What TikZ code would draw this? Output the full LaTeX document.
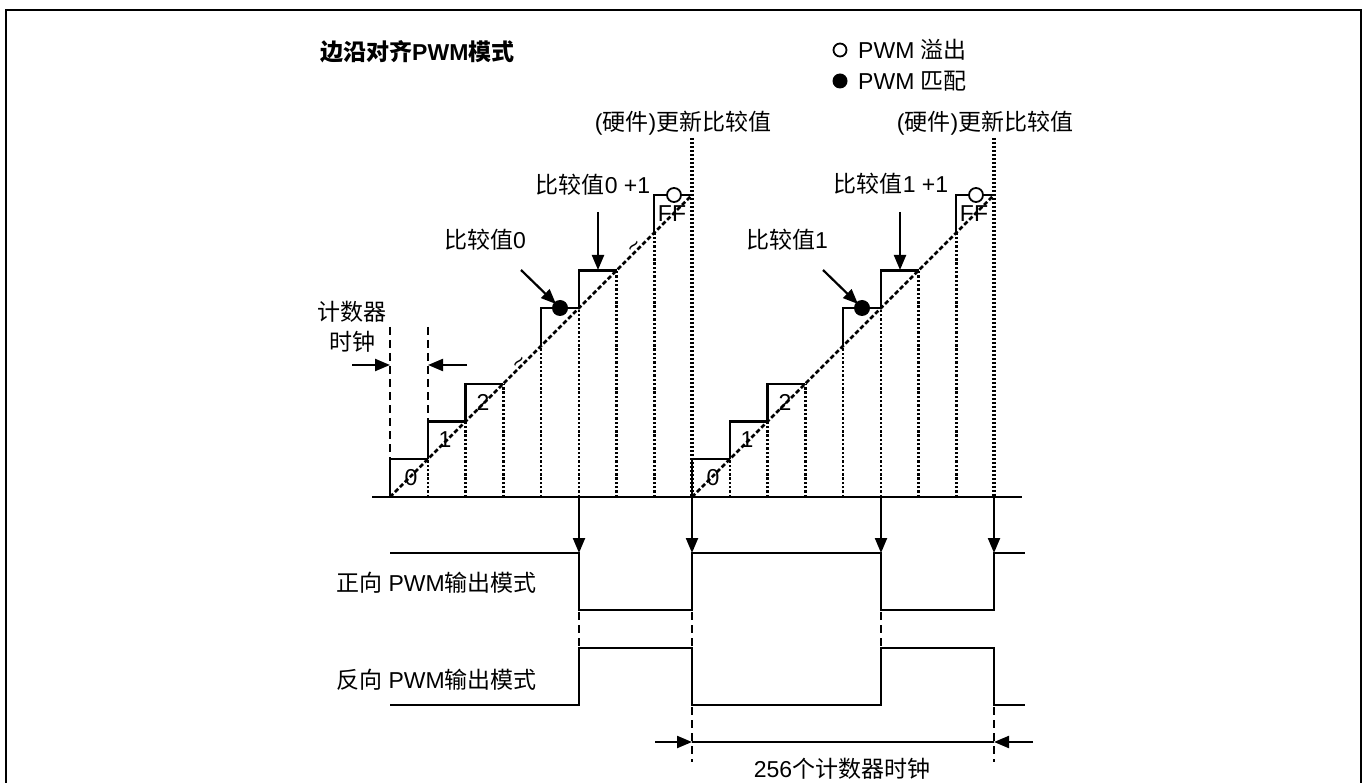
\documentclass[tikz,border=0pt]{standalone}
\usepackage{fontspec}
\setmainfont{Liberation Sans}
\newfontfamily\cjk{Noto Sans CJK SC}
\usetikzlibrary{arrows.meta}
\begin{document}
\begin{tikzpicture}[x=1pt,y=-1pt,
  lbl/.style={font=\fontsize{23}{27}\selectfont, inner sep=0pt},
  ttl/.style={font=\fontsize{23}{27}\selectfont\bfseries, inner sep=0pt},
  solidln/.style={line width=2.2pt},
  diagln/.style={line width=2.6pt, dash pattern=on 4.5pt off 2.5pt},
  dotv/.style={line width=2.5pt, dash pattern=on 2.4pt off 1.9pt},
  dotthick/.style={line width=4pt, dash pattern=on 2.4pt off 1.6pt},
  dashv/.style={line width=2.8pt, dash pattern=on 8pt off 5pt},
  arr/.style={line width=2.2pt, -{Triangle[length=15pt,width=12pt]}},
  ovf/.style={circle, draw, fill=white, minimum size=14pt, inner sep=0pt, line width=1.8pt},
  mtch/.style={circle, fill=black, minimum size=16pt, inner sep=0pt},
]
\useasboundingbox (0,0) rectangle (1365,783);
\draw[line width=2pt] (5.5,783) -- (5.5,10.5) -- (1361,10.5) -- (1361,783);

% title and legend
\node[ttl, anchor=west] (title) at (320,52) {{\cjk 边沿对齐}PWM{\cjk 模式}};
\node[ovf, minimum size=13pt] (lgo) at (840,50) {};
\node[lbl, anchor=west] (lgot) at (858,50) {PWM {\cjk 溢出}};
\node[mtch, minimum size=15pt] (lgm) at (840,81) {};
\node[lbl, anchor=west] (lgmt) at (858,81) {PWM {\cjk 匹配}};

% baseline
\coordinate (bl) at (372,497);
\coordinate (br) at (1022,497);
\draw[solidln] (bl) -- (br);

% staircases
\foreach \X in {390,692} {
  \foreach \k in {0,1,2,4,5,7} {
    \draw[solidln] (\X+\k*37.75, 497-\k*37.75) -- ++(0,-37.75) -- ++(37.75,0);
  }
  \foreach \k in {1,...,7} {
    \draw[dotv] (\X+\k*37.75,497) -- (\X+\k*37.75, 497-\k*37.75);
  }
  \draw[diagln] (\X,497) -- (\X+302,195);
  \draw[dotthick] (\X+302,138) -- (\X+302,497);
  \node[lbl] at (\X+21,478) {0};
  \node[lbl] at (\X+55,440) {1};
  \node[lbl] at (\X+93,402) {2};
  \node[lbl] at (\X+282,214) {FF};
  \node[ovf] at (\X+284,195) {};
  \node[mtch] at (\X+170,308) {};
  \node[lbl] at (\X+293,123) {({\cjk 硬件}){\cjk 更新比较值}};
}

% tildes in the gaps
\node[lbl, rotate=45, font=\fontsize{22}{22}\selectfont] (t1) at (521,364) {\textasciitilde};
\node[lbl, rotate=45, font=\fontsize{22}{22}\selectfont] (t2) at (636,248) {\textasciitilde};

% compare value labels
\node[lbl] (cv0) at (485,240) {{\cjk 比较值}0};
\node[lbl] (cv1) at (787,240) {{\cjk 比较值}1};
\node[lbl] (cv0p) at (593,185) {{\cjk 比较值}0 +1};
\node[lbl] (cv1p) at (891,184) {{\cjk 比较值}1 +1};
\coordinate (a0s) at (521,270); \coordinate (a0e) at (556,304);
\coordinate (a1s) at (823,270); \coordinate (a1e) at (858,304);
\draw[arr] (a0s) -- (a0e);
\draw[arr] (a1s) -- (a1e);
\coordinate (p0s) at (598,212); \coordinate (p0e) at (598,270);
\coordinate (p1s) at (900,212); \coordinate (p1e) at (900,270);
\draw[arr] (p0s) -- (p0e);
\draw[arr] (p1s) -- (p1e);

% counter clock
\node[lbl] (cc1) at (352,312) {\cjk 计数器};
\node[lbl] (cc2) at (352,342) {\cjk 时钟};
\draw[dashv] (390,327) -- (390,458);
\draw[dashv] (428,327) -- (428,421);
\coordinate (ccl) at (352,365); \coordinate (ccla) at (390,365);
\coordinate (ccr) at (467,365); \coordinate (ccra) at (428,365);
\draw[arr] (ccl) -- (ccla);
\draw[arr] (ccr) -- (ccra);

% event arrows down to the waveforms
\foreach \x in {579,692,881,994} {
  \draw[arr] (\x,497) -- (\x,553);
}

% waveforms
\draw[solidln] (390,553) -- (579,553) -- (579,610) -- (692,610) -- (692,553) -- (881,553) -- (881,610) -- (994,610) -- (994,553) -- (1025,553);
\draw[solidln] (390,705) -- (579,705) -- (579,648) -- (692,648) -- (692,705) -- (881,705) -- (881,648) -- (994,648) -- (994,705) -- (1025,705);
\foreach \x in {579,692,881} {
  \draw[dashv] (\x,612) -- (\x,646);
}
\draw[dashv] (692,707) -- (692,762);
\draw[dashv] (994,707) -- (994,762);

\node[lbl, anchor=east] (pos) at (537,583) {{\cjk 正向} PWM{\cjk 输出模式}};
\node[lbl, anchor=east] (neg) at (537,680) {{\cjk 反向} PWM{\cjk 输出模式}};

% 256 clocks dimension
\coordinate (dl) at (655,742); \coordinate (dla) at (692,742);
\coordinate (dr) at (1033,742); \coordinate (dra) at (994,742);
\draw[arr] (dl) -- (dla);
\draw[solidln] (dla) -- (dra);
\draw[arr] (dr) -- (dra);
\node[lbl] (dim) at (842,769) {256{\cjk 个计数器时钟}};
\end{tikzpicture}
\end{document}
